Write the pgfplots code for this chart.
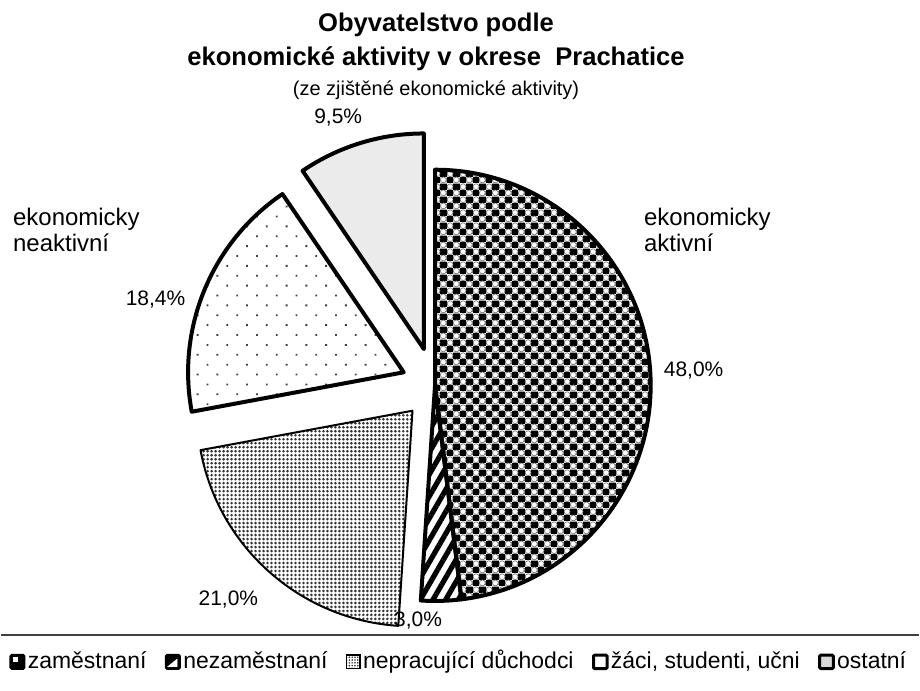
\documentclass[border=0pt]{standalone}
\usepackage{fontspec}
\setmainfont{Liberation Sans}
\usepackage{pgfplots}
\usepackage{pgfplotstable}
\pgfplotsset{compat=1.18}
\usetikzlibrary{patterns,patterns.meta}

% podil v %, posun vysece (px)
\pgfplotstableread{
share explode
48.0 0
3.0 0
21.0 34
18.4 34
9.5 38
}\pietable

% uhly vyseci
\gdef\pietotal{0}
\pgfplotstableforeachcolumnelement{share}\of\pietable\as\v{%
  \pgfmathsetmacro\t{\pietotal+\v}\xdef\pietotal{\t}}
\pgfmathsetmacro\piek{360/\pietotal}
\gdef\pieacc{0}
\foreach \i in {0,...,4}{%
  \pgfplotstablegetelem{\i}{share}\of\pietable \let\sh\pgfplotsretval
  \pgfplotstablegetelem{\i}{explode}\of\pietable \let\ex\pgfplotsretval
  \pgfmathsetmacro\a{90-\piek*\pieacc}%
  \pgfmathsetmacro\b{90-\piek*(\pieacc+\sh)}%
  \pgfmathsetmacro\m{(\a+\b)/2}%
  \pgfmathsetmacro\e{0.5*\ex}%
  \expandafter\xdef\csname pieA\i\endcsname{\a}%
  \expandafter\xdef\csname pieB\i\endcsname{\b}%
  \expandafter\xdef\csname pieM\i\endcsname{\m}%
  \expandafter\xdef\csname pieE\i\endcsname{\e}%
  \pgfmathsetmacro\n{\pieacc+\sh}\xdef\pieacc{\n}%
}

\newcommand\slice[2]{%
  \edef\tmp{\noexpand\draw[line join=round,\unexpanded{#2}] (axis cs:435,386)
    ++(\csname pieM#1\endcsname:\csname pieE#1\endcsname pt)
    -- ++(\csname pieA#1\endcsname:108pt)
    arc[start angle=\csname pieA#1\endcsname, end angle=\csname pieB#1\endcsname, radius=108pt]
    -- cycle;}\tmp}

\pgfdeclarepatterninherentlycolored{circlecheck}
{\pgfpointorigin}{\pgfpoint{6.6pt}{6.6pt}}{\pgfpoint{6.6pt}{6.6pt}}
{%
  \pgfsetfillcolor{black}%
  \pgfpathrectangle{\pgfpointorigin}{\pgfpoint{3.3pt}{3.3pt}}%
  \pgfpathrectangle{\pgfpoint{3.3pt}{3.3pt}}{\pgfpoint{3.3pt}{3.3pt}}%
  \pgfusepath{fill}%
  \pgfsetfillcolor{white}%
  \pgfsetstrokecolor{black!55}%
  \pgfsetlinewidth{0.35pt}%
  \pgfpathcircle{\pgfpoint{4.95pt}{1.65pt}}{1.55pt}%
  \pgfpathcircle{\pgfpoint{1.65pt}{4.95pt}}{1.55pt}%
  \pgfusepath{fill,stroke}%
}

\begin{document}
\begin{tikzpicture}
\begin{axis}[
    scale only axis, width=460pt, height=346pt,
    xmin=0, xmax=920, ymin=0, ymax=692, y dir=reverse,
    hide axis, clip=false,
    legend columns=-1,
    legend style={at={(axis cs:459,664)}, anchor=center, draw=none, fill=none,
        font=\fontsize{11.5}{14}\selectfont,
        nodes={inner xsep=1.2pt, inner ysep=0pt, text height=1.55ex, text depth=0.45ex},
        /tikz/every even column/.append style={column sep=8pt}},
]
\path (axis cs:0,0) rectangle (axis cs:920,692);

\slice{0}{line width=2pt, pattern=circlecheck}
\slice{1}{line width=2pt, pattern={Lines[angle=60,distance=5.5pt,line width=2.6pt]}}
\slice{2}{line width=1pt, pattern={Dots[distance=2pt,radius=0.72pt]}, pattern color=black!80}
\slice{3}{line width=2pt, pattern={Dots[angle=45,distance=7pt,radius=0.65pt]}, pattern color=black!75}
\slice{4}{line width=2pt, fill=black!8}

% popisky
\node[font=\fontsize{10.5}{12}\selectfont] at (axis cs:694,371) {48,0\%};
\node[font=\fontsize{10.5}{12}\selectfont] at (axis cs:418,622) {3,0\%};
\node[font=\fontsize{10.5}{12}\selectfont] at (axis cs:228,601) {21,0\%};
\node[font=\fontsize{10.5}{12}\selectfont] at (axis cs:155,300) {18,4\%};
\node[font=\fontsize{10.5}{12}\selectfont] at (axis cs:338,118) {9,5\%};

\node[anchor=base west, align=left, inner sep=0pt, font=\fontsize{12}{13}\selectfont]
    at (axis cs:644,252) {ekonomicky\\aktivní};
\node[anchor=base west, align=left, inner sep=0pt, font=\fontsize{12}{13}\selectfont]
    at (axis cs:12,252) {ekonomicky\\neaktivní};

% nadpis
\node[anchor=base, font=\bfseries\fontsize{12.8}{15}\selectfont] at (axis cs:436,32) {Obyvatelstvo podle};
\node[anchor=base, font=\bfseries\fontsize{12.8}{15}\selectfont] at (axis cs:436,66) {ekonomické aktivity v okrese\ \ Prachatice};
\node[anchor=base, font=\fontsize{10}{12}\selectfont] at (axis cs:436,96) {(ze zjištěné ekonomické aktivity)};

\draw[black!75, line width=0.8pt] (axis cs:0,636) -- (axis cs:920,636);

\addlegendimage{legend image code/.code={%
  \draw[line width=1.2pt, fill=black, rounded corners=0.6pt] (0.6pt,-2.9pt) rectangle (7.4pt,3.9pt);
  \fill[white] (1.8pt,0.8pt) rectangle (4pt,2.7pt);}}
\addlegendentry{zaměstnaní}
\addlegendimage{legend image code/.code={%
  \draw[line width=1.2pt, fill=black, rounded corners=0.6pt] (0.6pt,-2.9pt) rectangle (7.4pt,3.9pt);
  \fill[white] (1.7pt,-1.8pt) -- (6.1pt,-1.8pt) -- (6.1pt,1.8pt) -- cycle;}}
\addlegendentry{nezaměstnaní}
\addlegendimage{legend image code/.code={%
  \draw[line width=0.6pt, pattern={Dots[distance=1.4pt,radius=0.45pt]}, pattern color=black!80] (0.6pt,-2.9pt) rectangle (7.4pt,3.9pt);}}
\addlegendentry{nepracující důchodci}
\addlegendimage{legend image code/.code={%
  \draw[line width=1.5pt, fill=white, rounded corners=0.6pt] (0.6pt,-2.9pt) rectangle (7.4pt,3.9pt);}}
\addlegendentry{žáci, studenti, učni}
\addlegendimage{legend image code/.code={%
  \draw[line width=1.5pt, fill=black!15, rounded corners=0.6pt] (0.6pt,-2.9pt) rectangle (7.4pt,3.9pt);}}
\addlegendentry{ostatní}
\end{axis}
\end{tikzpicture}
\end{document}
